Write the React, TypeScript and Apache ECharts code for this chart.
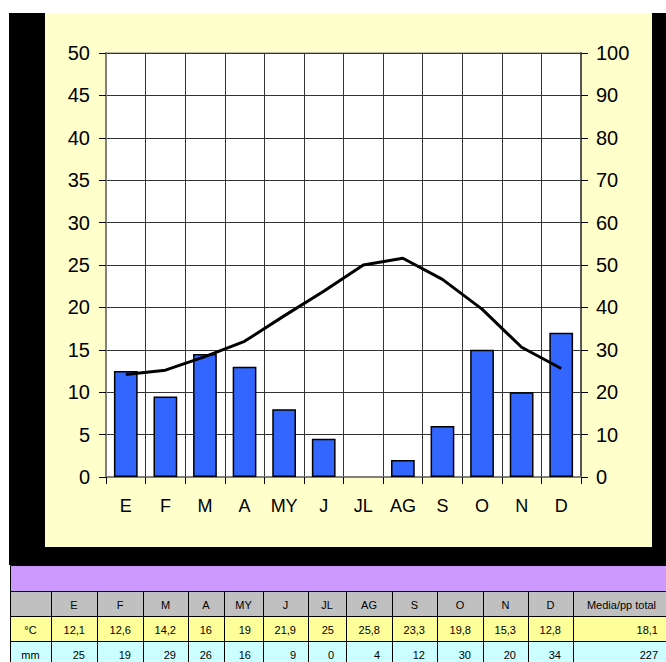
import React, { useEffect, useRef } from "react";
import * as echarts from "echarts";

const months = ["E", "F", "M", "A", "MY", "J", "JL", "AG", "S", "O", "N", "D"];
const temperature = [12.1, 12.6, 14.2, 16, 19, 21.9, 25, 25.8, 23.3, 19.8, 15.3, 12.8];
const precipitation = [25, 19, 29, 26, 16, 9, 0, 4, 12, 30, 20, 34];
const rowLabels = ["°C", "mm"];
const summaryHeader = "Media/pp total";
const summaryTemp = "18,1";
const summaryPrecip = "227";

const FONT = 'Arial, "Liberation Sans", sans-serif';

function fmt(v: number): string {
  return String(v).replace(".", ",");
}

function buildTable(): any[] {
  const cols = [10, 51, 97, 143, 188, 224, 263, 308, 346, 392, 437, 483, 528, 573, 670];
  const rows = [591, 616, 641, 666];
  const fills = ["#C0C0C0", "#FFFF99", "#CCFFFF"];
  const cells: string[][] = [
    ["", ...months, summaryHeader],
    [rowLabels[0], ...temperature.map(fmt), summaryTemp],
    [rowLabels[1], ...precipitation.map((v) => String(v)), summaryPrecip],
  ];
  const els: any[] = [];
  for (let r = 0; r < 3; r++) {
    for (let c = 0; c < cols.length - 1; c++) {
      const x0 = cols[c];
      const x1 = cols[c + 1];
      const y0 = rows[r];
      const y1 = rows[r + 1];
      els.push({
        type: "rect",
        z: 1,
        shape: { x: x0 + 0.5, y: y0 + 0.5, width: x1 - x0, height: y1 - y0 },
        style: { fill: fills[r], stroke: "#000", lineWidth: 1 },
      });
      const txt = cells[r][c];
      if (!txt) continue;
      const centered = r === 0 || c === 0;
      els.push({
        type: "text",
        z: 2,
        x: centered ? (x0 + x1) / 2 : x1 - 12,
        y: (y0 + y1) / 2 + 1,
        style: {
          text: txt,
          fill: "#000",
          font: "11px " + FONT,
          align: centered ? "center" : "right",
          verticalAlign: "middle",
        },
      });
    }
  }
  return els;
}

export default function App() {
  const ref = useRef<HTMLDivElement>(null);
  useEffect(() => {
    if (!ref.current) return;
    const chart = echarts.init(ref.current, undefined, { renderer: "svg" });
    const option: any = {
      animation: false,
      backgroundColor: "#ffffff",
      graphic: [
        { type: "rect", z: -100, shape: { x: 9, y: 13, width: 657, height: 552 }, style: { fill: "#000" } },
        { type: "rect", z: -99, shape: { x: 45, y: 13, width: 607, height: 534 }, style: { fill: "#FFFFCC" } },
        {
          type: "rect",
          z: 1,
          shape: { x: 10.5, y: 565.5, width: 660, height: 26 },
          style: { fill: "#CC99FF", stroke: "#000", lineWidth: 1 },
        },
        ...buildTable(),
      ],
      grid: {
        left: 106,
        right: 85,
        top: 53,
        bottom: 185,
        show: true,
        backgroundColor: "#ffffff",
        borderColor: "#808080",
        borderWidth: 1,
      },
      xAxis: {
        type: "category",
        data: months,
        boundaryGap: true,
        axisLine: { show: true, lineStyle: { color: "#808080", width: 2 } },
        axisTick: { show: true, inside: false, length: 7, lineStyle: { color: "#000" } },
        axisLabel: { color: "#000", fontSize: 18, fontFamily: FONT, margin: 20, interval: 0 },
        splitLine: { show: true, interval: 0, lineStyle: { color: "#333", width: 1 } },
      },
      yAxis: [
        {
          type: "value",
          min: 0,
          max: 50,
          interval: 5,
          position: "left",
          axisLine: { show: true, lineStyle: { color: "#808080", width: 2 } },
          axisTick: { show: true, length: 7, lineStyle: { color: "#000" } },
          axisLabel: { color: "#000", fontSize: 20, fontFamily: FONT, margin: 16 },
          splitLine: { show: true, lineStyle: { color: "#333", width: 1 } },
        },
        {
          type: "value",
          min: 0,
          max: 100,
          interval: 10,
          position: "right",
          axisLine: { show: true, lineStyle: { color: "#555", width: 2 } },
          axisTick: { show: true, length: 7, lineStyle: { color: "#000" } },
          axisLabel: { color: "#000", fontSize: 20, fontFamily: FONT, margin: 15 },
          splitLine: { show: false },
        },
      ],
      series: [
        {
          type: "bar",
          yAxisIndex: 1,
          data: precipitation.map((v) =>
            v === 0 ? { value: v, itemStyle: { borderWidth: 0 } } : v
          ),
          barWidth: "60%",
          itemStyle: { color: "#3366FF", borderColor: "#000", borderWidth: 1.5 },
          z: 2,
        },
        {
          type: "line",
          yAxisIndex: 0,
          data: temperature,
          symbol: "none",
          smooth: false,
          lineStyle: { color: "#000", width: 3 },
          z: 3,
        },
      ],
    };
    chart.setOption(option);
    return () => chart.dispose();
  }, []);
  return (
    <div
      ref={ref}
      style={{ position: "absolute", left: 0, top: 0, width: 666, height: 662 }}
    />
  );
}
